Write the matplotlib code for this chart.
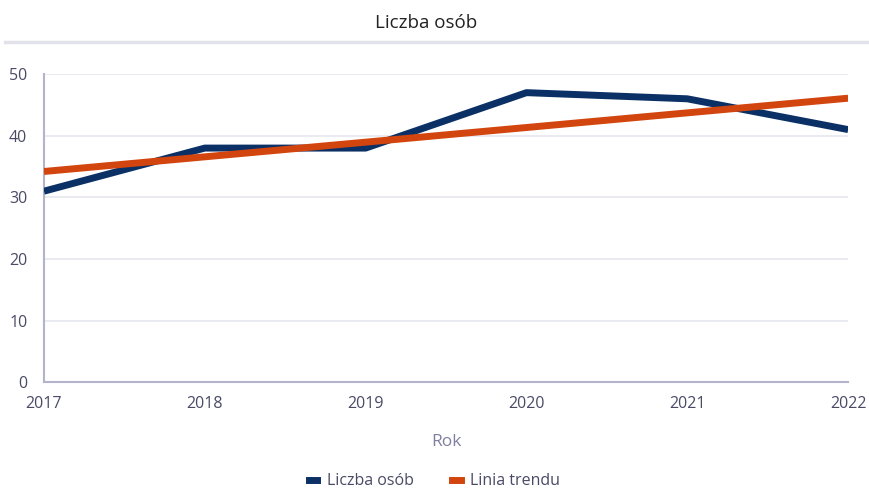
import matplotlib.pyplot as plt
from matplotlib.lines import Line2D

years = [2017, 2018, 2019, 2020, 2021, 2022]
people = [31, 38, 38, 47, 46, 41]
trend_years = [2017, 2022]
trend_values = [34.2, 46.1]

BLUE = '#0b3065'
ORANGE = '#d2450e'
TEXT = '#4a4a66'

plt.rcParams['font.family'] = ['Open Sans', 'DejaVu Sans']

fig = plt.figure(figsize=(8.69, 4.88), dpi=100)
ax = fig.add_axes([0.0506, 0.217, 0.9254, 0.631])

ax.plot(years, people, color=BLUE, linewidth=5, solid_capstyle='butt', zorder=3)
ax.plot(trend_years, trend_values, color=ORANGE, linewidth=5, solid_capstyle='butt', zorder=4)

ax.set_xlim(2017, 2022)
ax.set_ylim(0, 50)
ax.set_yticks([0, 10, 20, 30, 40, 50])
ax.set_xticks(years)
ax.grid(axis='y', color='#e6e6ef', linewidth=1.2)
ax.set_axisbelow(True)
ax.tick_params(length=0, labelsize=11.5, colors=TEXT)
ax.tick_params(axis='x', pad=10)
ax.tick_params(axis='y', pad=12)
for side in ['top', 'right']:
    ax.spines[side].set_visible(False)
for side in ['left', 'bottom']:
    ax.spines[side].set_color('#b3b3cc')
    ax.spines[side].set_linewidth(1.5)

ax.set_xlabel('Rok', fontsize=12.5, color='#7f7f9f', labelpad=16)

fig.text(0.49, 0.953, 'Liczba osób', ha='center', va='center', fontsize=13.5, color='#222222')
fig.add_artist(Line2D([0.006, 1.0], [0.914, 0.914], transform=fig.transFigure,
                      color='#e2e2ea', linewidth=2.5))

handles = [Line2D([], [], color=BLUE, linewidth=5),
           Line2D([], [], color=ORANGE, linewidth=5)]
fig.legend(handles, ['Liczba osób', 'Linia trendu'], loc='center', bbox_to_anchor=(0.5, 0.014),
           ncol=2, frameon=False, fontsize=11.5, labelcolor=TEXT, handlelength=0.55,
           handletextpad=0.6, columnspacing=2.4)

fig.savefig('out.png', dpi=100)
